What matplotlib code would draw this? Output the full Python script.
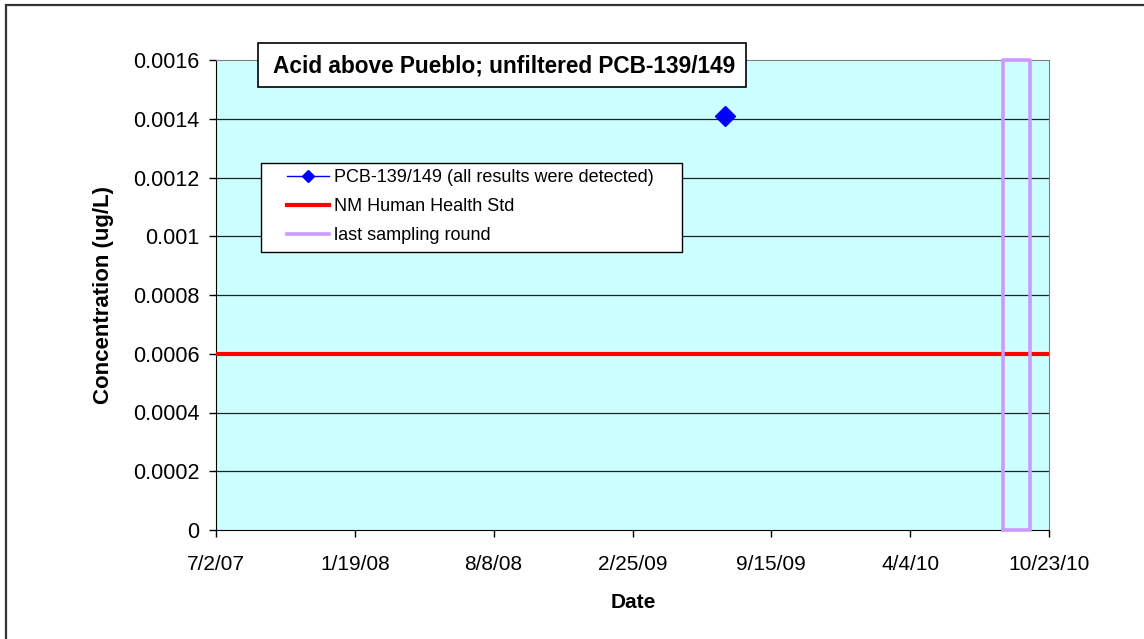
import datetime as dt
import matplotlib
matplotlib.use("Agg")
import matplotlib.pyplot as plt
import matplotlib.dates as mdates
from matplotlib.patches import Rectangle

plt.rcParams['font.family'] = ['Liberation Sans', 'DejaVu Sans']

# data
pcb_dates = [dt.datetime(2009, 7, 10)]
pcb_values = [0.00141]

std_dates = [dt.datetime(2007, 7, 2), dt.datetime(2010, 10, 23)]
std_values = [0.0006, 0.0006]

last_round_start = dt.datetime(2010, 8, 17)
last_round_end = dt.datetime(2010, 9, 25)
last_round_top = 0.0016

x_min = dt.datetime(2007, 7, 2)
x_max = dt.datetime(2010, 10, 23)
tick_labels = ['7/2/07', '1/19/08', '8/8/08', '2/25/09', '9/15/09', '4/4/10', '10/23/10']
y_ticks = [0, 0.0002, 0.0004, 0.0006, 0.0008, 0.001, 0.0012, 0.0014, 0.0016]
y_labels = ['0', '0.0002', '0.0004', '0.0006', '0.0008', '0.001', '0.0012', '0.0014', '0.0016']

W, H = 1144, 639


def fx(px):
    return px / W


def fy(py):
    return 1 - py / H


fig = plt.figure(figsize=(11.44, 6.39), dpi=100)
ax = fig.add_axes([fx(216), fy(530), (1049 - 216) / W, (530 - 60) / H])
ax.set_facecolor('#ccffff')

# outer chart frame (only top and left visible)
fig.patches.append(Rectangle((fx(6), -0.1), 1.2, fy(5) + 0.1,
                             transform=fig.transFigure, fill=False,
                             edgecolor='#333333', linewidth=1.6))

for yv in y_ticks[1:-1]:
    ax.axhline(yv, color='#222222', linewidth=0.9, zorder=1)

ax.plot(std_dates, std_values, color='red', linewidth=3, label='NM Human Health Std', zorder=3)

box_x = [last_round_start, last_round_start, last_round_end, last_round_end, last_round_start]
box_y = [0, last_round_top, last_round_top, 0, 0]
ax.plot(box_x, box_y, color='#cc99ff', linewidth=2.6, label='last sampling round',
        zorder=4, clip_on=False)

ax.plot(pcb_dates, pcb_values, color='blue', marker='D', markersize=10, linewidth=1,
        label='PCB-139/149 (all results were detected)', zorder=5)

ax.set_xlim(x_min, x_max)
ax.set_ylim(0, 0.0016)
step = (mdates.date2num(x_max) - mdates.date2num(x_min)) / 6
ax.set_xticks([mdates.date2num(x_min) + i * step for i in range(7)])
ax.set_xticklabels(tick_labels, fontsize=15)
ax.set_yticks(y_ticks)
ax.set_yticklabels(y_labels, fontsize=15.5)
ax.tick_params(axis='both', direction='out', length=5, width=1)
ax.tick_params(axis='x', pad=13)
ax.tick_params(axis='y', pad=7)

for side in ['top', 'right']:
    ax.spines[side].set_color('#808080')
for side in ['left', 'bottom']:
    ax.spines[side].set_color('black')

fig.text(fx(633), fy(602), 'Date', ha='center', va='center', fontsize=15, fontweight='bold')
fig.text(fx(104), fy(295), 'Concentration (ug/L)', ha='center', va='center',
         rotation=90, fontsize=16, fontweight='bold')

# legend with its own frame
fig.patches.append(Rectangle((fx(261), fy(252)), (682 - 261) / W, (252 - 163) / H,
                             transform=fig.transFigure, facecolor='white',
                             edgecolor='black', linewidth=1, zorder=5))
handles, labels = ax.get_legend_handles_labels()
order = [2, 0, 1]
leg = fig.legend([handles[i] for i in order], [labels[i] for i in order],
                 loc='upper left', bbox_to_anchor=(fx(287), fy(169)),
                 fontsize=13, frameon=False, borderpad=0, borderaxespad=0,
                 handlelength=2.3, handletextpad=0.3, labelspacing=0.67,
                 markerscale=0.6)
leg.set_zorder(6)

# title box
fig.patches.append(Rectangle((fx(258), fy(87)), (746 - 258) / W, (87 - 43) / H,
                             transform=fig.transFigure, facecolor='white',
                             edgecolor='black', linewidth=1.2, zorder=7))
fig.text(fx(504), fy(66), 'Acid above Pueblo; unfiltered PCB-139/149',
         ha='center', va='center', fontsize=16.3, fontweight='bold', zorder=8)

fig.savefig('out.png', dpi=100)
